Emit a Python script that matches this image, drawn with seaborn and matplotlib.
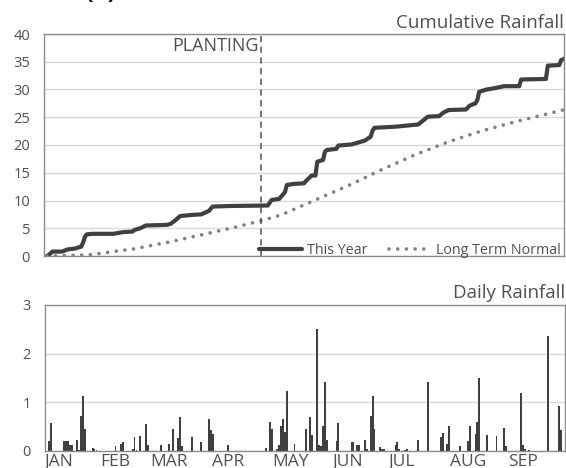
import numpy as np
import pandas as pd
import matplotlib
matplotlib.use("Agg")
import matplotlib.pyplot as plt
import seaborn as sns

# cumulative rainfall this year (day of year, inches)
cum_days = [1, 2, 4, 9, 12, 16, 18, 19, 20, 21, 22, 25, 36, 41, 46, 47, 50, 53, 64, 66,
            68, 71, 77, 82, 86, 88, 96, 117, 119, 123, 126, 127, 131, 136, 137, 140, 142,
            143, 146, 147, 148, 153, 154, 161, 165, 168, 171, 172, 173, 184, 190, 196, 201,
            207, 209, 212, 221, 223, 226, 227, 228, 232, 237, 241, 249, 250, 263, 264, 270,
            271, 273]
cum_this_year = [0.0, 0.2, 0.8, 0.8, 1.2, 1.35, 1.6, 1.65, 2.4, 3.5, 3.9, 4.0, 4.0, 4.3, 4.4,
                 4.7, 5.0, 5.5, 5.6, 5.8, 6.3, 7.2, 7.4, 7.5, 8.1, 8.9, 9.0, 9.1, 10.1, 10.3,
                 11.5, 12.8, 13.0, 13.1, 13.5, 14.5, 14.5, 17.0, 17.3, 18.8, 19.1, 19.3, 19.9,
                 20.1, 20.5, 20.8, 21.5, 22.6, 23.1, 23.3, 23.5, 23.7, 25.1, 25.2, 25.8, 26.3,
                 26.4, 27.1, 27.5, 28.1, 29.6, 30.0, 30.3, 30.6, 30.6, 31.8, 31.9, 34.3, 34.4,
                 35.3, 35.6]

# long term normal
normal_days = [1, 23, 47, 65, 82, 100, 114, 124, 142, 160, 177, 194, 212, 229, 247, 265, 273]
normal_vals = [0.0, 0.2, 1.3, 2.5, 3.8, 5.2, 6.4, 7.4, 10.1, 12.8, 15.6, 18.2, 20.6, 22.5,
               24.2, 25.7, 26.4]

# daily rainfall
rain_days = [2, 3, 10, 11, 12, 13, 14, 17, 18, 19, 20, 21, 25, 26, 27, 37, 40, 41, 46, 47,
             48, 50, 53, 54, 61, 65, 67, 70, 71, 72, 77, 82, 86, 87, 88, 96, 116, 118, 119,
             122, 123, 124, 125, 126, 127, 131, 137, 139, 140, 143, 144, 145, 146, 147, 148,
             153, 154, 161, 162, 164, 165, 168, 169, 171, 172, 173, 176, 177, 178, 184, 185,
             186, 189, 190, 196, 201, 208, 209, 211, 212, 218, 222, 223, 226, 227, 228, 232,
             237, 241, 242, 250, 251, 252, 254, 264, 270, 271]
rain_amounts = [0.21, 0.57, 0.2, 0.2, 0.2, 0.12, 0.13, 0.23, 0.03, 0.72, 1.14, 0.45, 0.07,
                0.05, 0.03, 0.1, 0.15, 0.19, 0.05, 0.28, 0.03, 0.3, 0.55, 0.12, 0.12, 0.15,
                0.45, 0.27, 0.69, 0.1, 0.28, 0.19, 0.65, 0.43, 0.34, 0.13, 0.07, 0.6, 0.45,
                0.05, 0.13, 0.52, 0.65, 0.4, 1.23, 0.14, 0.45, 0.69, 0.32, 2.5, 0.12, 0.11,
                0.51, 1.41, 0.23, 0.21, 0.57, 0.19, 0.19, 0.12, 0.13, 0.23, 0.05, 0.72, 1.14,
                0.45, 0.08, 0.05, 0.04, 0.13, 0.19, 0.05, 0.03, 0.04, 0.23, 1.41, 0.29, 0.38,
                0.15, 0.51, 0.1, 0.21, 0.51, 0.34, 0.59, 1.51, 0.33, 0.3, 0.47, 0.1, 1.19,
                0.13, 0.05, 0.03, 2.37, 0.92, 0.43]

planting_day = 113.5
month_labels = ["JAN", "FEB", "MAR", "APR", "MAY", "JUN", "JUL", "AUG", "SEP"]
month_label_days = [7, 37, 65, 96, 129, 159, 187, 222, 251]

sns.set_theme(style="white")
plt.rcParams["font.family"] = ["Open Sans", "DejaVu Sans"]

TXT = "#505050"
SPINE = "#8c8c8c"
GRID = "#d9d9d9"
DARK = "#404040"

fig = plt.figure(figsize=(5.66, 4.68), dpi=100)
ax1 = fig.add_axes([44 / 566, 212 / 468, 520 / 566, 222 / 468])
ax2 = fig.add_axes([45 / 566, 17 / 468, 520 / 566, 146 / 468])

df_cum = pd.DataFrame({"day": cum_days, "rain": cum_this_year})
df_norm = pd.DataFrame({"day": normal_days, "rain": normal_vals})
df_daily = pd.DataFrame({"day": rain_days, "rain": rain_amounts})

sns.lineplot(data=df_cum, x="day", y="rain", ax=ax1, color=DARK, lw=3.0,
             label="This Year", solid_capstyle="round", solid_joinstyle="round")
sns.lineplot(data=df_norm, x="day", y="rain", ax=ax1, color="#7f7f7f", lw=2.6,
             linestyle=(0, (0.01, 2.4)), dash_capstyle="round", label="Long Term Normal")
ax1.axvline(planting_day, color=TXT, lw=1.1, ls=(0, (4, 3)))
ax1.text(planting_day - 1.5, 39.5, "PLANTING", ha="right", va="top", fontsize=13, color=TXT)

ax1.set_xlim(-0.5, 272.5)
ax1.set_ylim(0, 40)
ax1.set_yticks(range(0, 41, 5))
ax1.set_xticks([])
ax1.set_title("Cumulative Rainfall", loc="right", fontsize=13.5, color=TXT, pad=4)

leg = ax1.legend(loc="lower right", ncol=2, frameon=False, fontsize=10.3,
                 handlelength=3.0, columnspacing=1.5, handletextpad=0.3,
                 bbox_to_anchor=(1.018, -0.066), labelcolor=TXT)

sns.barplot(data=df_daily, x="day", y="rain", ax=ax2, native_scale=True, color=DARK,
            width=0.95, errorbar=None, saturation=1, linewidth=0)
ax2.set_xlim(0, 273)
ax2.set_ylim(0, 3)
ax2.set_yticks([0, 1, 2, 3])
ax2.set_xticks(month_label_days)
ax2.set_xticklabels(month_labels)
ax2.set_title("Daily Rainfall", loc="right", fontsize=13.5, color=TXT, pad=5)

for ax in (ax1, ax2):
    ax.set_xlabel("")
    ax.set_ylabel("")
    ax.yaxis.grid(True, color=GRID, lw=1)
    ax.xaxis.grid(False)
    ax.set_axisbelow(True)
    for s in ax.spines.values():
        s.set_color(SPINE)
        s.set_linewidth(1.0)
    ax.tick_params(axis="y", length=0, pad=10, labelsize=10.5, labelcolor=TXT)
    ax.tick_params(axis="x", length=0, pad=2, labelsize=12.5, labelcolor=TXT)

fig.text(85 / 566, 1.004, "(A)", fontsize=16, fontweight="bold", color="black",
         ha="left", va="baseline")

fig.savefig("out.png", dpi=100)
